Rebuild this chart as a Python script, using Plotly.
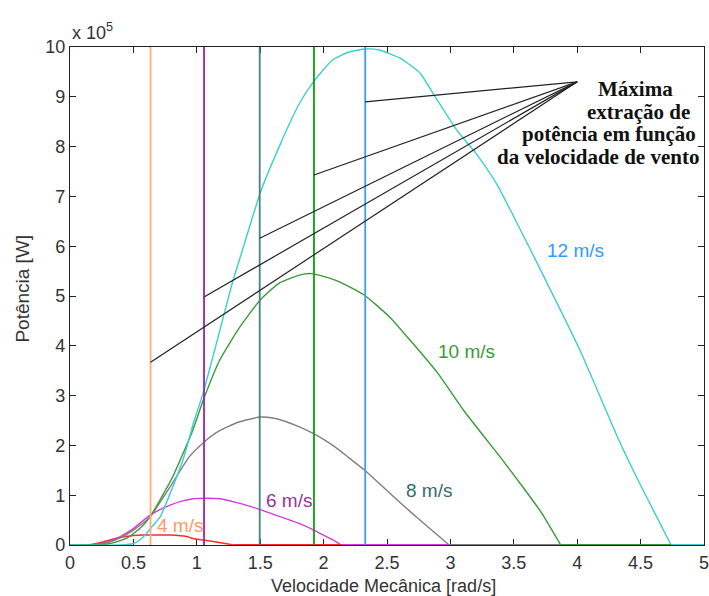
import plotly.graph_objects as go

# ---- data (power in units of 1e5 W, speed in rad/s) ----
red_x = [0, 0.15, 0.24, 0.39, 0.5, 0.58, 0.68, 0.79, 0.92, 0.97, 1.05, 1.13, 1.2, 1.29, 5.0]
red_y = [0, 0, 0.05, 0.15, 0.19, 0.2, 0.2, 0.2, 0.17, 0.13, 0.1, 0.07, 0.04, 0, 0]

mag_x = [0, 0.2, 0.3, 0.39, 0.5, 0.61, 0.7, 0.79, 0.88, 0.97, 1.08, 1.18, 1.3, 1.4, 1.5,
         1.6, 1.7, 1.81, 1.9, 1.99, 2.07, 2.14, 5.0]
mag_y = [0, 0.01, 0.06, 0.16, 0.33, 0.56, 0.7, 0.8, 0.88, 0.93, 0.94, 0.93, 0.86, 0.79, 0.71,
         0.62, 0.53, 0.43, 0.33, 0.21, 0.11, 0, 0]

grey_x = [0, 0.2, 0.3, 0.4, 0.5, 0.63, 0.79, 0.94, 1.05, 1.15, 1.24, 1.32, 1.39, 1.5, 1.6,
          1.7, 1.8, 1.91, 2.0, 2.1, 2.2, 2.32, 2.45, 2.6, 2.75, 2.88, 2.99, 5.0]
grey_y = [0, 0.01, 0.05, 0.15, 0.3, 0.56, 1.17, 1.77, 2.05, 2.25, 2.37, 2.46, 2.51, 2.57, 2.55,
          2.48, 2.38, 2.25, 2.12, 1.95, 1.75, 1.51, 1.21, 0.86, 0.52, 0.24, 0, 0]

green_x = [0, 0.3, 0.45, 0.55, 0.63, 0.72, 0.81, 0.96, 1.06, 1.18, 1.34, 1.5, 1.65, 1.81, 1.9,
           2.02, 2.13, 2.32, 2.52, 2.7, 2.9, 3.12, 3.41, 3.57, 3.72, 3.87, 5.0]
green_y = [0, 0.02, 0.14, 0.33, 0.56, 0.95, 1.37, 2.25, 2.97, 3.71, 4.38, 4.92, 5.26, 5.42, 5.45,
           5.38, 5.28, 5.02, 4.58, 4.06, 3.45, 2.65, 1.71, 1.17, 0.64, 0, 0]

cyan_x = [0, 0.4, 0.5, 0.55, 0.6, 0.64, 0.71, 0.8, 0.89, 0.98, 1.05, 1.16, 1.28, 1.36, 1.5,
          1.65, 1.81, 1.92, 2.07, 2.2, 2.33, 2.44, 2.6, 2.76, 2.87, 3.05, 3.2, 3.36, 3.54, 3.7,
          4.02, 4.33, 4.5, 4.74, 5.0]
cyan_y = [0, 0.0, 0.03, 0.1, 0.22, 0.35, 0.56, 1.1, 1.7, 2.5, 3.05, 4.1, 5.26, 5.92, 7.07,
          8.0, 8.87, 9.3, 9.74, 9.9, 9.96, 9.94, 9.78, 9.48, 9.04, 8.33, 7.87, 7.27, 6.39, 5.58,
          3.92, 2.1, 1.2, 0, 0]

# optimum speeds (vertical markers) and where the pointer lines start on them
opt_speed = [0.635, 1.057, 1.496, 1.924, 2.328]
pointer_y = [3.67, 4.98, 6.16, 7.43, 8.90]
pointer_target = (4.0, 9.3)

wind_labels = ["4 m/s", "6 m/s", "8 m/s", "10 m/s", "12 m/s"]
label_x = [0.87, 1.73, 2.83, 3.13, 3.99]
label_y = [0.40, 0.89, 1.10, 3.88, 5.92]

note_lines = ["Máxima", "extração de", "potência em função", "da velocidade de vento"]
note_x = [4.457, 4.48, 4.25, 4.165]
note_y = [9.16, 8.70, 8.26, 7.80]

curve_colors = ["#FF2A2A", "#D63AD6", "#808080", "#3A9A3A", "#3CCFCF"]
vline_colors = ["#FFAA80", "#9B22B0", "#4D7F80", "#0AA00A", "#3E9BFF"]
label_colors = ["#FF9966", "#993399", "#336B6B", "#3A9A3A", "#3399FF"]

fig = go.Figure()

curves = list(zip([red_x, mag_x, grey_x, green_x, cyan_x],
                  [red_y, mag_y, grey_y, green_y, cyan_y], curve_colors))

# the smooth positive part of each curve (up to where it reaches zero)
for xs, ys, c in curves:
    n = len(xs) - 1  # last point is the flat zero tail end
    fig.add_trace(go.Scatter(x=xs[:n], y=ys[:n], mode="lines",
                             line=dict(color=c, width=1.4, shape="spline", smoothing=0.5),
                             showlegend=False, hoverinfo="skip"))
# flat zero tails
for xs, ys, c in curves:
    fig.add_trace(go.Scatter(x=xs[-2:], y=ys[-2:], mode="lines",
                             line=dict(color=c, width=2),
                             showlegend=False, hoverinfo="skip"))

for v, c in zip(opt_speed, vline_colors):
    fig.add_trace(go.Scatter(x=[v, v], y=[0, 10], mode="lines",
                             line=dict(color=c, width=1.8),
                             showlegend=False, hoverinfo="skip"))

for v, py in zip(opt_speed, pointer_y):
    fig.add_trace(go.Scatter(x=[v, pointer_target[0]], y=[py, pointer_target[1]], mode="lines",
                             line=dict(color="#222222", width=1.2),
                             showlegend=False, hoverinfo="skip"))

font_sans = "Arial, 'Liberation Sans', sans-serif"
annotations = []
for t, x, y, c in zip(wind_labels, label_x, label_y, label_colors):
    annotations.append(dict(x=x, y=y, xref="x", yref="y", text=t, showarrow=False,
                            font=dict(family=font_sans, size=19, color=c),
                            xanchor="center", yanchor="middle"))
for t, x, y in zip(note_lines, note_x, note_y):
    annotations.append(dict(x=x, y=y, xref="x", yref="y", text="<b>" + t + "</b>",
                            showarrow=False,
                            font=dict(family="'Times New Roman', 'Liberation Serif', serif",
                                      size=21, color="#111111"),
                            xanchor="center", yanchor="middle"))
annotations.append(dict(x=0, y=1, xref="paper", yref="paper", text="x 10<sup>5</sup>",
                        showarrow=False, xanchor="left", yanchor="middle", yshift=16,
                        font=dict(family=font_sans, size=18, color="#333333")))
annotations.append(dict(x=-0.0756, y=0.515, xref="paper", yref="paper", text="Potência [W]",
                        textangle=-90, showarrow=False, xanchor="center", yanchor="middle",
                        font=dict(family=font_sans, size=19, color="#333333")))
annotations.append(dict(x=0.495, y=-0.0823, xref="paper", yref="paper",
                        text="Velocidade Mecânica [rad/s]", showarrow=False,
                        xanchor="center", yanchor="middle",
                        font=dict(family=font_sans, size=18, color="#333333")))

axis_common = dict(showgrid=False, zeroline=False, showline=True, linecolor="#222222",
                   linewidth=1.2, mirror="ticks", ticks="inside", ticklen=6,
                   tickcolor="#222222", tickwidth=1.2, layer="below traces",
                   automargin=False, ticklabeloverflow="allow",
                   tickfont=dict(family=font_sans, size=18, color="#333333"))

fig.update_layout(
    width=709, height=596,
    margin=dict(l=70, r=5, t=47, b=51, autoexpand=False),
    paper_bgcolor="white", plot_bgcolor="white",
    xaxis=dict(range=[0, 5], dtick=0.5, tick0=0, ticklabelstandoff=1, **axis_common),
    yaxis=dict(range=[0, 10], dtick=1, tick0=0, **axis_common),
    annotations=annotations,
    showlegend=False,
)

fig.write_html("out.html", config={"displayModeBar": False},
               post_script="document.body.style.margin='0';document.body.style.overflow='hidden';")
